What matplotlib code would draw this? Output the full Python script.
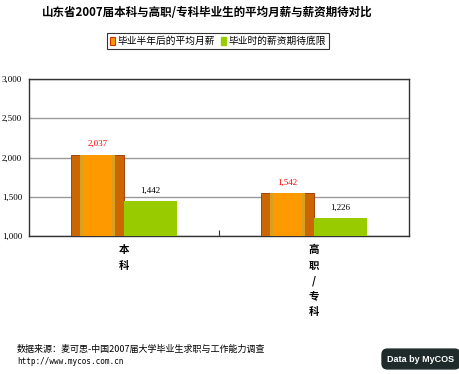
import matplotlib
matplotlib.use("Agg")
import matplotlib.pyplot as plt
from matplotlib.patches import Patch

plt.rcParams['font.family'] = ['Noto Sans CJK SC', 'DejaVu Sans']

title = "山东省2007届本科与高职/专科毕业生的平均月薪与薪资期待对比"
categories = ["本\n科", "高\n职\n/\n专\n科"]
series_names = ["毕业半年后的平均月薪", "毕业时的薪资期待底限"]
salary = [2037, 1542]
expect = [1442, 1226]
yticks = [1000, 1500, 2000, 2500, 3000]
source = "数据来源：麦可思-中国2007届大学毕业生求职与工作能力调查"
url = "http://www.mycos.com.cn"

fig = plt.figure(figsize=(4.6, 3.74), dpi=100)
ax = fig.add_axes([29/460, 1-236/374, 380/460, 157/374])

x = list(range(len(categories)))
w = 0.28
xo = [i - w/2 for i in x]
xg = [i + w/2 for i in x]

ax.bar(xo, [v - 1000 for v in salary], w, bottom=1000, color="#cc6600", edgecolor="#993300", linewidth=0.6, zorder=3)
ax.bar(xo, [v - 1000 for v in salary], w*0.66, bottom=1000, color="#d9a020", linewidth=0, zorder=4)
ax.bar(xo, [v - 1000 for v in salary], w*0.56, bottom=1000, color="#ff9900", linewidth=0, zorder=5)
ax.bar(xg, [v - 1000 for v in expect], w, bottom=1000, color="#99cc00", linewidth=0, zorder=3)

for xi, v in zip(xo, salary):
    ax.text(xi, v + 90, f"{v:,}", ha="center", va="bottom", color="#ff0000",
            fontsize=6.5, family="Liberation Serif")
for xi, v in zip(xg, expect):
    ax.text(xi, v + 80, f"{v:,}", ha="center", va="bottom", color="#000000",
            fontsize=6.5, family="Liberation Serif")

ax.set_xlim(-0.5, len(categories) - 0.5)
ax.set_ylim(1000, 3000)
ax.set_yticks(yticks)
ax.set_yticklabels([f"{t:,}" for t in yticks], fontsize=6.5, family="Liberation Serif")
ax.yaxis.grid(True, color="#999999", linewidth=1.0, zorder=0)
ax.tick_params(axis="y", length=0, pad=5)
ax.set_xticks([i + 0.5 for i in x[:-1]])
ax.set_xticklabels([])
ax.tick_params(axis="x", direction="in", length=4, color="#333333")
for s in ax.spines.values():
    s.set_color("#333333")
    s.set_linewidth(1.0)

for i, c in zip(x, categories):
    chars = c.split("\n")
    for k, ch in enumerate(chars):
        ax.annotate(ch, xy=(i, 1000), xytext=(0, -14 - k*15.5), textcoords="offset pixels",
                    ha="center", va="center", fontsize=7.5, fontweight="bold", annotation_clip=False)

fig.text(207/460, 1-13/374, title, ha="center", va="center", fontsize=8.3, fontweight="bold")

handles = [Patch(facecolor="#ff9900", edgecolor="#cc3300", linewidth=0.8),
           Patch(facecolor="#99cc00", edgecolor="#99cc00")]
leg = fig.legend(handles, series_names, loc="center", bbox_to_anchor=(218/460, 1-41/374),
                 ncol=2, fontsize=7, frameon=True, fancybox=False, handlelength=0.5,
                 handleheight=0.9, handletextpad=0.3, columnspacing=0.6, borderpad=0.3)
leg.get_frame().set_edgecolor("#000000")
leg.get_frame().set_linewidth(0.8)

fig.text(17/460, 1-349/374, source, ha="left", va="center", fontsize=6.5)
fig.text(17/460, 1-362/374, url, ha="left", va="center", fontsize=5.5, family="DejaVu Sans Mono")
fig.text(421/460, 1-359/374, "Data by MyCOS", ha="center", va="center", fontsize=6.5,
         fontweight="bold", color="white", family="Liberation Sans",
         bbox=dict(boxstyle="round,pad=0.6", facecolor="#1f2b2b", edgecolor="#1f2b2b"))

fig.savefig("out.png", dpi=100)
